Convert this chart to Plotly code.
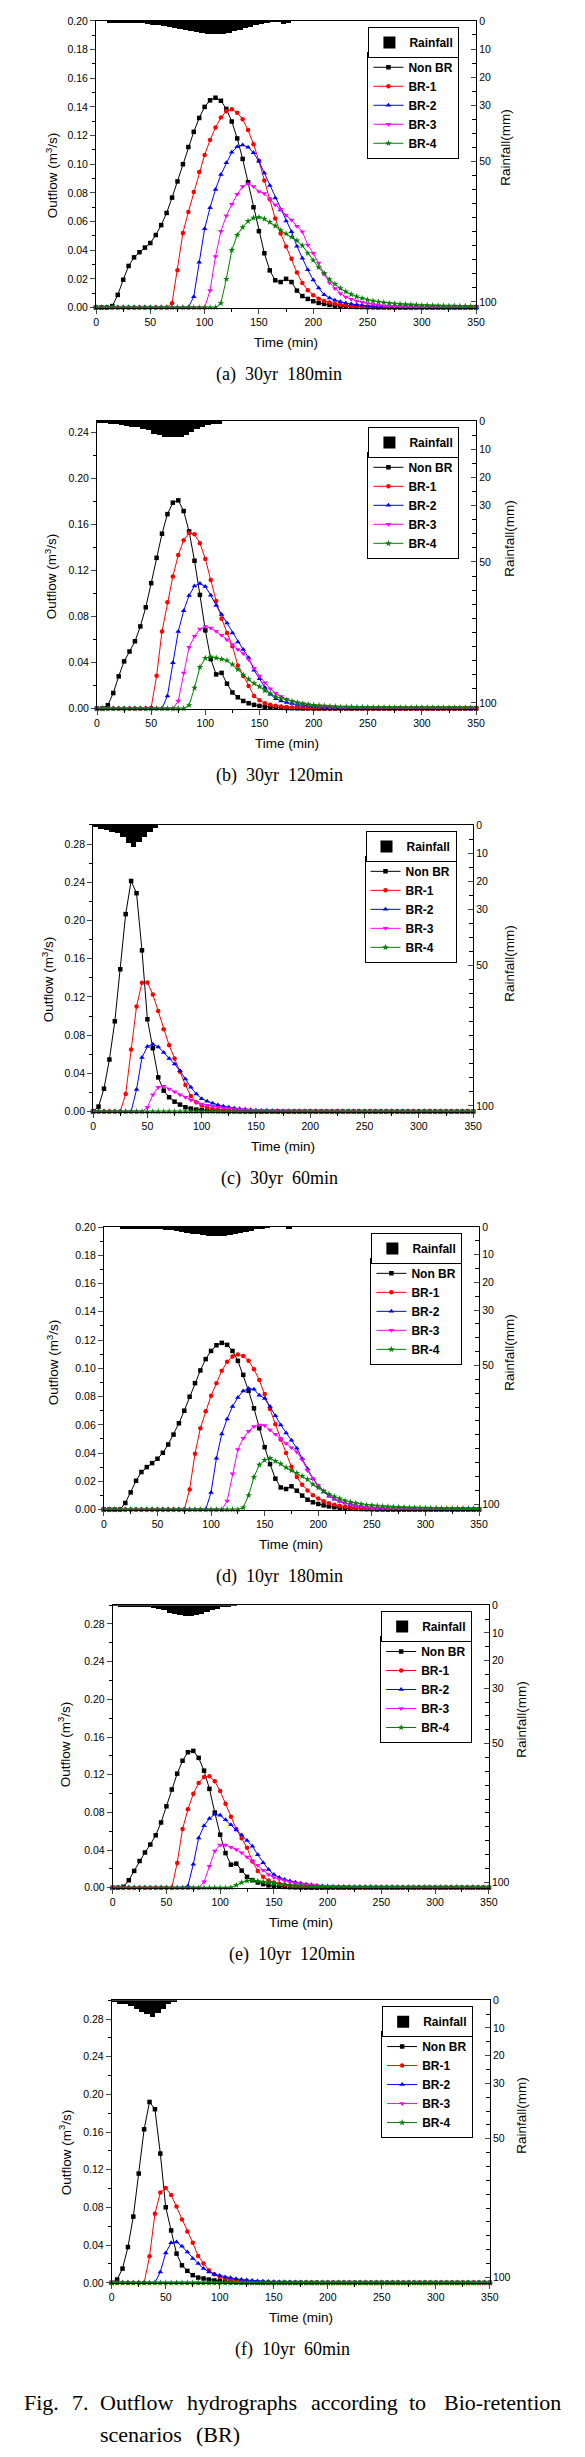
import plotly.graph_objects as go

# ---------------- data ----------------
time_min = list(range(0, 355, 5))          # 0..350 min, 5-min step
series_names = ["Non BR", "BR-1", "BR-2", "BR-3", "BR-4"]
series_colors = ["#000000", "#FF0000", "#0000FF", "#FF00FF", "#008000"]
series_symbols = ["square", "circle", "triangle-up", "triangle-down", "star"]
x_tick_vals = [0, 50, 100, 150, 200, 250, 300, 350]
rain_tick_vals = [0, 10, 20, 30, 50, 100]
rain_tick_text = ["0", "10", "20", "30", "50", "100"]
captions = ["(a)  30yr  180min", "(b)  30yr  120min", "(c)  30yr  60min",
            "(d)  10yr  180min", "(e)  10yr  120min", "(f)  10yr  60min"]

# ---- (a) 30yr 180min
a_nonbr = [0, 0, 0, 0.001, 0.0088, 0.0194, 0.029, 0.035, 0.0386, 0.0418,
           0.045, 0.0506, 0.0575, 0.066, 0.0767, 0.088, 0.100, 0.112, 0.1226, 0.1323,
           0.140, 0.1446, 0.1464, 0.1443, 0.1386, 0.1298, 0.118, 0.1037, 0.0875, 0.070,
           0.0533, 0.0379, 0.0259, 0.019, 0.0178, 0.020, 0.0178, 0.0118, 0.008, 0.006,
           0.0044, 0.0032, 0.0025, 0.0018, 0.0013, 0.001, 0.0007, 0.0005, 0.0004, 0.0003,
           0.0002, 0.0002, 0.0001, 0.0001, 0.0001, 0, 0, 0, 0, 0,
           0, 0, 0, 0, 0, 0, 0, 0, 0, 0, 0]
a_br1 = [0, 0, 0, 0, 0, 0, 0, 0, 0, 0,
         0, 0, 0, 0, 0.003, 0.026, 0.052, 0.0667, 0.0806, 0.0945,
         0.1065, 0.1169, 0.1256, 0.1326, 0.137, 0.1383, 0.136, 0.1314, 0.1238, 0.114,
         0.1025, 0.0887, 0.0755, 0.0621, 0.0517, 0.0425, 0.034, 0.0245, 0.0171, 0.012,
         0.0085, 0.0062, 0.0046, 0.0035, 0.0026, 0.002, 0.0015, 0.0011, 0.0008, 0.0006,
         0.0004, 0.0003, 0.0002, 0.0001, 0.0001, 0, 0, 0, 0, 0,
         0, 0, 0, 0, 0, 0, 0, 0, 0, 0, 0]
a_br2 = [0, 0, 0, 0, 0, 0, 0, 0, 0, 0,
         0, 0, 0, 0, 0, 0, 0, 0, 0.0076, 0.0316,
         0.055, 0.0697, 0.0824, 0.0928, 0.101, 0.1083, 0.1122, 0.1134, 0.1118, 0.108,
         0.102, 0.0938, 0.0852, 0.0764, 0.0681, 0.0603, 0.0529, 0.0427, 0.0344, 0.0263,
         0.0192, 0.0136, 0.009, 0.0067, 0.0051, 0.004, 0.0031, 0.0024, 0.0019, 0.0015,
         0.0011, 0.0008, 0.0006, 0.0004, 0.0003, 0.0002, 0.0001, 0, 0, 0,
         0, 0, 0, 0, 0, 0, 0, 0, 0, 0, 0]
a_br3 = [0, 0, 0, 0, 0, 0, 0, 0, 0, 0,
         0, 0, 0, 0, 0, 0, 0, 0, 0, 0,
         0, 0.0118, 0.0356, 0.0533, 0.064, 0.072, 0.079, 0.0845, 0.0864, 0.0845,
         0.081, 0.0795, 0.0753, 0.0718, 0.0686, 0.0644, 0.061, 0.0568, 0.0529, 0.0436,
         0.0379, 0.031, 0.0233, 0.0173, 0.0132, 0.0097, 0.0074, 0.0058, 0.0046, 0.0036,
         0.0028, 0.0022, 0.0017, 0.0013, 0.001, 0.0008, 0.0006, 0.0004, 0.0003, 0.0002,
         0.0002, 0.0001, 0.0001, 0, 0, 0, 0, 0, 0, 0, 0]
a_br4 = [0, 0, 0, 0, 0, 0, 0, 0, 0, 0,
         0, 0, 0, 0, 0, 0, 0, 0, 0, 0,
         0, 0, 0, 0.003, 0.0199, 0.040, 0.0506, 0.056, 0.0603, 0.0626,
         0.063, 0.0619, 0.0596, 0.057, 0.0538, 0.0515, 0.0492, 0.0467, 0.0432, 0.0379,
         0.033, 0.028, 0.024, 0.0196, 0.0164, 0.0134, 0.0111, 0.0092, 0.0076, 0.0065,
         0.0053, 0.0046, 0.004, 0.0035, 0.003, 0.0027, 0.0024, 0.0022, 0.002, 0.0018,
         0.0016, 0.0015, 0.0014, 0.0013, 0.0012, 0.0011, 0.0011, 0.001, 0.001, 0.0009, 0.0009]
a_rain = [0, 0, 0.6, 0.6, 0.7, 0.7, 0.7, 0.8, 0.8, 0.9,
          1.4, 1.5, 1.7, 2.0, 2.4, 2.8, 3.2, 3.6, 4.0, 4.3,
          4.6, 4.7, 4.7, 4.5, 4.1, 3.7, 3.2, 2.6, 2.0, 1.4,
          0.9, 0.5, 0.3, 0.2, 1.2, 0.5]

# ---- (b) 30yr 120min
b_nonbr = [0, 0, 0.0029, 0.0135, 0.028, 0.041, 0.0496, 0.0585, 0.0714, 0.088,
           0.109, 0.131, 0.152, 0.169, 0.179, 0.181, 0.1717, 0.154, 0.1285, 0.0988,
           0.068, 0.043, 0.0297, 0.031, 0.0216, 0.014, 0.0098, 0.0066, 0.0046, 0.0032,
           0.0023, 0.0016, 0.0011, 0.0008, 0.0006, 0.0004, 0.0003, 0.0002, 0.0001, 0.0001,
           0, 0, 0, 0, 0, 0, 0, 0, 0, 0,
           0, 0, 0, 0, 0, 0, 0, 0, 0, 0,
           0, 0, 0, 0, 0, 0, 0, 0, 0, 0, 0]
b_br1 = [0, 0, 0, 0, 0, 0, 0, 0, 0, 0,
         0.0008, 0.0285, 0.067, 0.0925, 0.1147, 0.1334, 0.1464, 0.1527, 0.1515, 0.1438,
         0.130, 0.1118, 0.0936, 0.0781, 0.0657, 0.0542, 0.0375, 0.0282, 0.0196, 0.011,
         0.0072, 0.0046, 0.0032, 0.0024, 0.0018, 0.0013, 0.001, 0.0007, 0.0005, 0.0003,
         0.0002, 0.0001, 0, 0, 0, 0, 0, 0, 0, 0,
         0, 0, 0, 0, 0, 0, 0, 0, 0, 0,
         0, 0, 0, 0, 0, 0, 0, 0, 0, 0, 0]
b_br2 = [0, 0, 0, 0, 0, 0, 0, 0, 0, 0,
         0, 0, 0, 0.011, 0.0398, 0.067, 0.085, 0.0982, 0.1066, 0.1086,
         0.106, 0.0985, 0.0896, 0.0818, 0.0743, 0.0657, 0.0579, 0.0513, 0.0441, 0.0334,
         0.0259, 0.0182, 0.0124, 0.0086, 0.0066, 0.0053, 0.0043, 0.0035, 0.0028, 0.0022,
         0.0017, 0.0013, 0.001, 0.0008, 0.0006, 0.0004, 0.0003, 0.0002, 0.0001, 0,
         0, 0, 0, 0, 0, 0, 0, 0, 0, 0,
         0, 0, 0, 0, 0, 0, 0, 0, 0, 0, 0]
b_br3 = [0, 0, 0, 0, 0, 0, 0, 0, 0, 0,
         0, 0, 0, 0, 0, 0.0066, 0.0308, 0.0533, 0.0628, 0.0691,
         0.0714, 0.070, 0.0671, 0.0637, 0.0599, 0.0556, 0.0513, 0.0478, 0.0426, 0.0351,
         0.0282, 0.0225, 0.0173, 0.0133, 0.0104, 0.0081, 0.0064, 0.0051, 0.0041, 0.0033,
         0.0027, 0.0022, 0.0018, 0.0014, 0.0011, 0.0009, 0.0007, 0.0005, 0.0004, 0.0003,
         0.0002, 0.0001, 0.0001, 0, 0, 0, 0, 0, 0, 0,
         0, 0, 0, 0, 0, 0, 0, 0, 0, 0, 0]
b_br4 = [0, 0, 0, 0, 0, 0, 0, 0, 0, 0,
         0, 0, 0, 0, 0, 0, 0, 0.0029, 0.018, 0.036,
         0.0438, 0.045, 0.0441, 0.0429, 0.0418, 0.0383, 0.034, 0.0294, 0.0254, 0.0219,
         0.019, 0.0156, 0.013, 0.0104, 0.0089, 0.0075, 0.0063, 0.0052, 0.0043, 0.0035,
         0.003, 0.0026, 0.0023, 0.002, 0.0018, 0.0016, 0.0015, 0.0014, 0.0013, 0.0012,
         0.0011, 0.0011, 0.001, 0.001, 0.001, 0.001, 0.0009, 0.0009, 0.0009, 0.0009,
         0.0009, 0.0009, 0.0008, 0.0008, 0.0008, 0.0008, 0.0008, 0.0008, 0.0008, 0.0008, 0.0008]
b_rain = [0.6, 0.8, 1.0, 1.2, 1.4, 1.7, 2.0, 2.3, 2.7, 3.1,
          4.6, 5.0, 5.6, 5.8, 5.8, 5.6, 5.0, 4.0, 3.0, 2.0,
          1.3, 1.0, 0.9]

# ---- (c) 30yr 60min
c_nonbr = [0, 0.0052, 0.024, 0.0545, 0.0945, 0.149, 0.2067, 0.2414, 0.2286, 0.1688,
           0.0966, 0.0663, 0.0358, 0.0219, 0.015, 0.0104, 0.0073, 0.0045, 0.0031, 0.0021,
           0.0017, 0.0012, 0.0009, 0.0007, 0.0005, 0.0004, 0.0003, 0.0002, 0.0001, 0,
           0, 0, 0, 0, 0, 0, 0, 0, 0, 0,
           0, 0, 0, 0, 0, 0, 0, 0, 0, 0,
           0, 0, 0, 0, 0, 0, 0, 0, 0, 0,
           0, 0, 0, 0, 0, 0, 0, 0, 0, 0, 0]
c_br1 = [0, 0, 0, 0, 0, 0, 0.0184, 0.065, 0.110, 0.1348,
         0.1351, 0.1226, 0.1052, 0.0861, 0.0695, 0.0556, 0.0417, 0.0278, 0.0163, 0.0097,
         0.0063, 0.0042, 0.003, 0.0022, 0.0016, 0.0012, 0.0009, 0.0007, 0.0005, 0.0004,
         0.0003, 0.0002, 0.0001, 0, 0, 0, 0, 0, 0, 0,
         0, 0, 0, 0, 0, 0, 0, 0, 0, 0,
         0, 0, 0, 0, 0, 0, 0, 0, 0, 0,
         0, 0, 0, 0, 0, 0, 0, 0, 0, 0, 0]
c_br2 = [0, 0, 0, 0, 0, 0, 0, 0, 0.023, 0.0566,
         0.068, 0.0705, 0.0677, 0.0618, 0.0556, 0.0497, 0.0427, 0.034, 0.0254, 0.0184,
         0.0135, 0.0108, 0.0087, 0.007, 0.0056, 0.0045, 0.0036, 0.0029, 0.0024, 0.0019,
         0.0015, 0.0012, 0.001, 0.0008, 0.0006, 0.0005, 0.0004, 0.0003, 0.0002, 0.0001,
         0, 0, 0, 0, 0, 0, 0, 0, 0, 0,
         0, 0, 0, 0, 0, 0, 0, 0, 0, 0,
         0, 0, 0, 0, 0, 0, 0, 0, 0, 0, 0]
c_br3 = [0, 0, 0, 0, 0, 0, 0, 0, 0, 0,
         0.0045, 0.0177, 0.0254, 0.0264, 0.0236, 0.0208, 0.0177, 0.0149, 0.0122, 0.0097,
         0.008, 0.0066, 0.0056, 0.0045, 0.0038, 0.0032, 0.0027, 0.0023, 0.002, 0.0017,
         0.0015, 0.0013, 0.0011, 0.001, 0.0009, 0.0008, 0.0008, 0.0007, 0.0007, 0.0006,
         0.0006, 0.0006, 0.0005, 0.0005, 0.0005, 0.0005, 0.0004, 0.0004, 0.0004, 0.0004,
         0.0004, 0.0004, 0.0003, 0.0003, 0.0003, 0.0003, 0.0003, 0.0003, 0.0003, 0.0003,
         0.0003, 0.0003, 0.0002, 0.0002, 0.0002, 0.0002, 0.0002, 0.0002, 0.0002, 0.0002, 0.0002]
c_br4 = [0, 0, 0, 0, 0, 0, 0, 0, 0, 0,
         0, 0, 0, 0, 0, 0, 0, 0, 0, 0,
         0, 0, 0, 0, 0, 0, 0, 0, 0, 0,
         0, 0, 0, 0, 0, 0, 0, 0, 0, 0,
         0, 0, 0, 0, 0, 0, 0, 0, 0, 0,
         0, 0, 0, 0, 0, 0, 0, 0, 0, 0,
         0, 0, 0, 0, 0, 0, 0, 0, 0, 0, 0]
c_rain = [0.6, 1.5, 1.8, 2.5, 2.9, 4.1, 6.3, 7.9, 6.2, 4.1, 2.4, 0.9]

# ---- (d) 10yr 180min
d_nonbr = [0, 0, 0, 0, 0.0047, 0.0122, 0.0204, 0.0266, 0.0301, 0.0329,
           0.036, 0.0402, 0.0461, 0.0531, 0.0611, 0.070, 0.0799, 0.0895, 0.0985, 0.1065,
           0.1123, 0.1163, 0.118, 0.1166, 0.1123, 0.1053, 0.0954, 0.0841, 0.0717, 0.0576,
           0.0442, 0.0322, 0.0219, 0.0157, 0.0146, 0.0165, 0.0134, 0.0099, 0.007, 0.0052,
           0.004, 0.003, 0.0023, 0.0017, 0.0013, 0.001, 0.0007, 0.0005, 0.0004, 0.0003,
           0.0002, 0.0001, 0.0001, 0, 0, 0, 0, 0, 0, 0,
           0, 0, 0, 0, 0, 0, 0, 0, 0, 0, 0]
d_br1 = [0, 0, 0, 0, 0, 0, 0, 0, 0, 0,
         0, 0, 0, 0, 0, 0, 0.0143, 0.0395, 0.0576, 0.0696,
         0.0806, 0.0895, 0.0982, 0.1046, 0.1083, 0.1098, 0.1088, 0.1053, 0.0994, 0.0917,
         0.0818, 0.0712, 0.0604, 0.0496, 0.040, 0.0303, 0.023, 0.0176, 0.0136, 0.0101,
         0.0078, 0.0059, 0.0045, 0.0034, 0.0026, 0.002, 0.0015, 0.0012, 0.0009, 0.0007,
         0.0005, 0.0004, 0.0003, 0.0002, 0.0001, 0, 0, 0, 0, 0,
         0, 0, 0, 0, 0, 0, 0, 0, 0, 0, 0]
d_br2 = [0, 0, 0, 0, 0, 0, 0, 0, 0, 0,
         0, 0, 0, 0, 0, 0, 0, 0, 0, 0,
         0.0122, 0.0364, 0.0536, 0.0642, 0.0729, 0.0794, 0.0839, 0.0858, 0.0851, 0.081,
         0.0787, 0.0729, 0.0665, 0.0599, 0.0543, 0.0491, 0.0435, 0.036, 0.0289, 0.0219,
         0.0167, 0.0125, 0.0094, 0.0074, 0.0059, 0.0047, 0.0037, 0.0029, 0.0023, 0.0018,
         0.0014, 0.0011, 0.0008, 0.0006, 0.0004, 0.0003, 0.0002, 0.0001, 0, 0,
         0, 0, 0, 0, 0, 0, 0, 0, 0, 0, 0]
d_br3 = [0, 0, 0, 0, 0, 0, 0, 0, 0, 0,
         0, 0, 0, 0, 0, 0, 0, 0, 0, 0,
         0, 0, 0, 0.0061, 0.0254, 0.0425, 0.0505, 0.0555, 0.0588, 0.0599,
         0.0595, 0.0564, 0.0533, 0.0501, 0.0468, 0.0437, 0.0407, 0.0353, 0.0277, 0.0219,
         0.0172, 0.0134, 0.0101, 0.0078, 0.006, 0.0046, 0.0036, 0.0028, 0.0022, 0.0017,
         0.0014, 0.0011, 0.0009, 0.0007, 0.0006, 0.0005, 0.0004, 0.0003, 0.0002, 0.0002,
         0.0001, 0, 0, 0, 0, 0, 0, 0, 0, 0, 0]
d_br4 = [0, 0, 0, 0, 0, 0, 0, 0, 0, 0,
         0, 0, 0, 0, 0, 0, 0, 0, 0, 0,
         0, 0, 0, 0, 0, 0, 0.0014, 0.0101, 0.023, 0.0317,
         0.035, 0.0364, 0.0343, 0.0324, 0.0298, 0.0277, 0.0259, 0.0237, 0.0214, 0.0179,
         0.0155, 0.0132, 0.011, 0.0092, 0.0078, 0.0063, 0.0054, 0.0047, 0.004, 0.0033,
         0.003, 0.0027, 0.0024, 0.0022, 0.002, 0.0018, 0.0016, 0.0015, 0.0014, 0.0013,
         0.0012, 0.0011, 0.0011, 0.001, 0.001, 0.0009, 0.0009, 0.0009, 0.0008, 0.0008, 0.0008]
d_rain = [0, 0, 0, 0.4, 0.4, 0.5, 0.5, 0.5, 0.6, 0.7,
          0.8, 1.0, 1.2, 1.5, 1.8, 2.1, 2.4, 2.7, 3.0, 3.2,
          3.3, 3.3, 3.2, 3.0, 2.7, 2.3, 1.8, 1.3, 0.9, 0.5,
          0.2, 0, 0, 0, 0.4]

# ---- (e) 10yr 120min
e_nonbr = [0, 0, 0.001, 0.008, 0.0179, 0.0284, 0.0375, 0.0459, 0.0557, 0.0693,
           0.0865, 0.1043, 0.1211, 0.1348, 0.1439, 0.1453, 0.1379, 0.1243, 0.105, 0.0798,
           0.0564, 0.0368, 0.0245, 0.0256, 0.0182, 0.0116, 0.008, 0.0056, 0.0039, 0.0025,
           0.0018, 0.0013, 0.0009, 0.0006, 0.0004, 0.0003, 0.0002, 0.0001, 0, 0,
           0, 0, 0, 0, 0, 0, 0, 0, 0, 0,
           0, 0, 0, 0, 0, 0, 0, 0, 0, 0,
           0, 0, 0, 0, 0, 0, 0, 0, 0, 0, 0]
e_br1 = [0, 0, 0, 0, 0, 0, 0, 0, 0, 0,
         0, 0, 0.0263, 0.0623, 0.0833, 0.0998, 0.1113, 0.1176, 0.1183, 0.1131,
         0.1026, 0.0893, 0.0753, 0.0623, 0.0525, 0.0424, 0.028, 0.0179, 0.0116, 0.0077,
         0.0056, 0.0042, 0.0032, 0.0024, 0.0018, 0.0013, 0.001, 0.0007, 0.0005, 0.0003,
         0.0002, 0.0001, 0, 0, 0, 0, 0, 0, 0, 0,
         0, 0, 0, 0, 0, 0, 0, 0, 0, 0,
         0, 0, 0, 0, 0, 0, 0, 0, 0, 0, 0]
e_br2 = [0, 0, 0, 0, 0, 0, 0, 0, 0, 0,
         0, 0, 0, 0, 0.002, 0.0249, 0.0529, 0.0658, 0.0735, 0.078,
         0.077, 0.0721, 0.0669, 0.0613, 0.056, 0.0501, 0.0441, 0.035, 0.0266, 0.0193,
         0.014, 0.0109, 0.0088, 0.0071, 0.0058, 0.0047, 0.0038, 0.0031, 0.0025, 0.002,
         0.0016, 0.0012, 0.0009, 0.0007, 0.0005, 0.0004, 0.0003, 0.0002, 0.0001, 0,
         0, 0, 0, 0, 0, 0, 0, 0, 0, 0,
         0, 0, 0, 0, 0, 0, 0, 0, 0, 0, 0]
e_br3 = [0, 0, 0, 0, 0, 0, 0, 0, 0, 0,
         0, 0, 0, 0, 0, 0, 0, 0.0063, 0.0228, 0.0389,
         0.0455, 0.0455, 0.043, 0.0406, 0.0371, 0.0326, 0.0284, 0.0238, 0.0186, 0.014,
         0.0109, 0.0091, 0.0074, 0.0061, 0.005, 0.0042, 0.0035, 0.0029, 0.0024, 0.002,
         0.0017, 0.0014, 0.0012, 0.001, 0.0008, 0.0007, 0.0006, 0.0005, 0.0004, 0.0003,
         0.0003, 0.0002, 0.0002, 0.0001, 0, 0, 0, 0, 0, 0,
         0, 0, 0, 0, 0, 0, 0, 0, 0, 0, 0]
e_br4 = [0, 0, 0, 0, 0, 0, 0, 0, 0, 0,
         0, 0, 0, 0, 0, 0, 0, 0, 0, 0,
         0, 0, 0.0003, 0.0028, 0.0056, 0.0074, 0.008, 0.007, 0.0063, 0.0053,
         0.0046, 0.0039, 0.0032, 0.0027, 0.0023, 0.002, 0.0017, 0.0015, 0.0013, 0.0012,
         0.0011, 0.001, 0.0009, 0.0009, 0.0008, 0.0008, 0.0007, 0.0007, 0.0007, 0.0006,
         0.0006, 0.0006, 0.0006, 0.0006, 0.0005, 0.0005, 0.0005, 0.0005, 0.0005, 0.0005,
         0.0005, 0.0005, 0.0005, 0.0005, 0.0005, 0.0004, 0.0004, 0.0004, 0.0004, 0.0004, 0.0004]
e_rain = [0.3, 0.4, 0.4, 0.5, 0.6, 0.7, 0.9, 1.1, 1.4, 1.8,
          2.8, 3.2, 3.6, 3.9, 3.9, 3.7, 3.2, 2.6, 1.9, 1.3,
          0.8, 0.5, 0.3]

# ---- (f) 10yr 60min
f_nonbr = [0, 0.0035, 0.0151, 0.038, 0.0703, 0.116, 0.163, 0.192, 0.1843, 0.1372,
           0.0802, 0.0556, 0.031, 0.0186, 0.0127, 0.0081, 0.0056, 0.0046, 0.0035, 0.0025,
           0.0018, 0.0013, 0.0009, 0.0006, 0.0004, 0.0003, 0.0002, 0.0001, 0, 0,
           0, 0, 0, 0, 0, 0, 0, 0, 0, 0,
           0, 0, 0, 0, 0, 0, 0, 0, 0, 0,
           0, 0, 0, 0, 0, 0, 0, 0, 0, 0,
           0, 0, 0, 0, 0, 0, 0, 0, 0, 0, 0]
f_br1 = [0, 0, 0, 0, 0, 0, 0, 0.0281, 0.0732, 0.096,
         0.1006, 0.0932, 0.0809, 0.0672, 0.0545, 0.0426, 0.0285, 0.0204, 0.0134, 0.0091,
         0.0063, 0.0046, 0.0034, 0.0025, 0.0018, 0.0013, 0.001, 0.0007, 0.0005, 0.0004,
         0.0003, 0.0002, 0.0001, 0, 0, 0, 0, 0, 0, 0,
         0, 0, 0, 0, 0, 0, 0, 0, 0, 0,
         0, 0, 0, 0, 0, 0, 0, 0, 0, 0,
         0, 0, 0, 0, 0, 0, 0, 0, 0, 0, 0]
f_br2 = [0, 0, 0, 0, 0, 0, 0, 0, 0, 0.0116,
         0.0317, 0.0426, 0.0433, 0.0387, 0.0327, 0.0257, 0.0204, 0.0151, 0.0116, 0.0091,
         0.0077, 0.0063, 0.0053, 0.0042, 0.0035, 0.0029, 0.0024, 0.002, 0.0017, 0.0014,
         0.0012, 0.001, 0.0008, 0.0007, 0.0006, 0.0005, 0.0004, 0.0003, 0.0003, 0.0002,
         0.0002, 0.0001, 0, 0, 0, 0, 0, 0, 0, 0,
         0, 0, 0, 0, 0, 0, 0, 0, 0, 0,
         0, 0, 0, 0, 0, 0, 0, 0, 0, 0, 0]
f_br3 = [0, 0, 0, 0, 0, 0, 0, 0, 0, 0,
         0, 0, 0, 0, 0, 0, 0, 0, 0, 0,
         0, 0, 0, 0, 0, 0, 0, 0, 0, 0,
         0, 0, 0, 0, 0, 0, 0, 0, 0, 0,
         0, 0, 0, 0, 0, 0, 0, 0, 0, 0,
         0, 0, 0, 0, 0, 0, 0, 0, 0, 0,
         0, 0, 0, 0, 0, 0, 0, 0, 0, 0, 0]
f_br4 = [0, 0, 0, 0, 0, 0, 0, 0, 0, 0,
         0, 0, 0, 0, 0, 0, 0, 0, 0, 0,
         0, 0, 0, 0, 0, 0, 0, 0, 0, 0,
         0, 0, 0, 0, 0, 0, 0, 0, 0, 0,
         0, 0, 0, 0, 0, 0, 0, 0, 0, 0,
         0, 0, 0, 0, 0, 0, 0, 0, 0, 0,
         0, 0, 0, 0, 0, 0, 0, 0, 0, 0, 0]
f_rain = [0.8, 1.4, 1.5, 2.0, 3.2, 4.4, 5.0, 6.0, 4.7, 3.2, 1.5, 0.6]

panel_series = [
    [a_nonbr, a_br1, a_br2, a_br3, a_br4],
    [b_nonbr, b_br1, b_br2, b_br3, b_br4],
    [c_nonbr, c_br1, c_br2, c_br3, c_br4],
    [d_nonbr, d_br1, d_br2, d_br3, d_br4],
    [e_nonbr, e_br1, e_br2, e_br3, e_br4],
    [f_nonbr, f_br1, f_br2, f_br3, f_br4],
]
panel_rain = [a_rain, b_rain, c_rain, d_rain, e_rain, f_rain]
outflow_max = [0.20, 0.25, 0.30, 0.20, 0.30, 0.30]
outflow_dtick = [0.02, 0.04, 0.04, 0.02, 0.04, 0.04]

# ---------------- layout geometry (pixels) ----------------
W, H = 585, 2457
# x0, x1, ytop, ybot
boxes = [(95, 483, 15, 303), (96, 483, 417, 706), (92, 480, 823, 1111),
         (103, 486, 1227, 1511), (112, 496, 1607, 1891), (111, 497, 2004, 2288)]
outflow_title_pos = [(50, 170), (49, 573), (46, 978), (51, 1363), (63, 1747), (64, 2157)]
rain_title_pos = [(513, 142), (517, 535), (517, 962), (517, 1353), (529, 1722), (530, 2120)]
caption_x = [282, 282, 282, 282, 295, 296]

def px(x):
    return x / W

def py(y):
    return 1 - y / H

SANS = "Liberation Sans, Arial, sans-serif"
SERIF = "Liberation Serif, Times New Roman, serif"

fig = go.Figure()
annotations = []
layout_extra = {}

for i in range(6):
    n = i + 1
    x0, x1, yt, yb = boxes[i]
    xa = "x" if n == 1 else f"x{n}"
    ya = "y" if n == 1 else f"y{n}"
    ra_n = n + 6
    ra = f"y{ra_n}"
    leg_series = "legend" if n == 1 else f"legend{2 * n - 1}"
    leg_rain = f"legend{2 * n}"

    for s in range(5):
        fig.add_trace(go.Scatter(
            x=time_min, y=panel_series[i][s], name=series_names[s],
            mode="lines+markers", xaxis=xa, yaxis=ya, legend=leg_series,
            line=dict(color=series_colors[s], width=1),
            marker=dict(symbol=series_symbols[s], color=series_colors[s],
                        size=5 if s in (2, 3, 4) else 4.5, line=dict(width=0)),
            cliponaxis=False, showlegend=True))

    rv = panel_rain[i]
    fig.add_trace(go.Bar(
        x=time_min[:len(rv)], y=rv, name="Rainfall", xaxis=xa, yaxis=ra,
        legend=leg_rain, marker=dict(color="black", line=dict(width=0)),
        width=5, offset=0, showlegend=True))

    xkey = "xaxis" if n == 1 else f"xaxis{n}"
    ykey = "yaxis" if n == 1 else f"yaxis{n}"
    rkey = f"yaxis{ra_n}"
    layout_extra[xkey] = dict(
        domain=[px(x0), px(x1)], anchor=ya, range=[0, 350],
        tickvals=x_tick_vals, ticks="outside", ticklen=5, tickwidth=1,
        showline=True, linecolor="black", linewidth=1, mirror=True,
        showgrid=False, zeroline=False,
        tickfont=dict(family=SANS, size=10.5, color="black"),
        minor=dict(dtick=25, tick0=0, ticks="outside", ticklen=3, tickcolor="black"))
    layout_extra[ykey] = dict(
        domain=[py(yb), py(yt)], anchor=xa, range=[0, outflow_max[i]],
        dtick=outflow_dtick[i], tick0=0, tickformat=".2f",
        ticks="outside", ticklen=5, tickwidth=1,
        showline=True, linecolor="black", linewidth=1,
        showgrid=False, zeroline=False,
        tickfont=dict(family=SANS, size=10.5, color="black"),
        minor=dict(dtick=outflow_dtick[i] / 2, tick0=0, ticks="outside", ticklen=3,
                   tickcolor="black"))
    layout_extra[rkey] = dict(
        overlaying=ya, side="right", anchor=xa, range=[102, 0],
        tickvals=rain_tick_vals, ticktext=rain_tick_text,
        ticks="inside", ticklen=5, tickwidth=1,
        showline=True, linecolor="black", linewidth=1,
        showgrid=False, zeroline=False,
        tickfont=dict(family=SANS, size=10.5, color="black"),
        minor=dict(dtick=5, tick0=0, ticks="inside", ticklen=4, tickcolor="black"))

    # legends
    layout_extra[leg_rain] = dict(
        x=px(x1 - 17), y=py(yt + 6), xanchor="right", yanchor="top",
        bordercolor="black", borderwidth=1, bgcolor="white",
        font=dict(family=SANS, size=12, color="black", weight="bold"),
        itemwidth=30, tracegroupgap=0)
    layout_extra[leg_series] = dict(
        x=px(x1 - 17), y=py(yt + 31), xanchor="right", yanchor="top",
        bordercolor="black", borderwidth=1, bgcolor="white",
        font=dict(family=SANS, size=12, color="black", weight="bold"),
        itemwidth=30, tracegroupgap=0)

    # titles
    ox, oy = outflow_title_pos[i]
    annotations.append(dict(text="Outflow (m<sup>3</sup>/s)", x=px(ox), y=py(oy),
                            xref="paper", yref="paper", showarrow=False, textangle=-90,
                            xanchor="center", yanchor="middle",
                            font=dict(family=SANS, size=13.5, color="black")))
    rx, ry = rain_title_pos[i]
    annotations.append(dict(text="Rainfall(mm)", x=px(rx), y=py(ry),
                            xref="paper", yref="paper", showarrow=False, textangle=-90,
                            xanchor="center", yanchor="middle",
                            font=dict(family=SANS, size=13.5, color="black")))
    annotations.append(dict(text="Time (min)", x=px((x0 + x1) / 2), y=py(yb + 35),
                            xref="paper", yref="paper", showarrow=False,
                            xanchor="center", yanchor="middle",
                            font=dict(family=SANS, size=13.5, color="black")))
    annotations.append(dict(text=captions[i], x=px(caption_x[i]), y=py(yb + 67),
                            xref="paper", yref="paper", showarrow=False,
                            xanchor="center", yanchor="middle",
                            font=dict(family=SERIF, size=18, color="black")))

# figure caption (justified words)
cap_line1 = ["Fig.", "7.", "Outflow", "hydrographs", "according", "to", "Bio-retention"]
cap_line1_x = [19, 68, 97, 186, 312, 412, 448]
cap_line2 = ["scenarios", "(BR)"]
cap_line2_x = [97, 195]
for word, wx in zip(cap_line1, cap_line1_x):
    annotations.append(dict(text=word, x=px(wx), y=py(2408), xref="paper", yref="paper",
                            showarrow=False, xanchor="left", yanchor="middle",
                            font=dict(family=SERIF, size=22, color="black")))
for word, wx in zip(cap_line2, cap_line2_x):
    annotations.append(dict(text=word, x=px(wx), y=py(2440), xref="paper", yref="paper",
                            showarrow=False, xanchor="left", yanchor="middle",
                            font=dict(family=SERIF, size=22, color="black")))

fig.update_layout(
    width=W, height=H, margin=dict(l=0, r=0, t=0, b=0),
    paper_bgcolor="white", plot_bgcolor="white",
    annotations=annotations, bargap=0,
    font=dict(family=SANS, color="black"),
    **layout_extra)

fig.write_html("out.html",
               config={"displayModeBar": False},
               post_script="document.body.style.margin='0';document.body.style.padding='0';")
